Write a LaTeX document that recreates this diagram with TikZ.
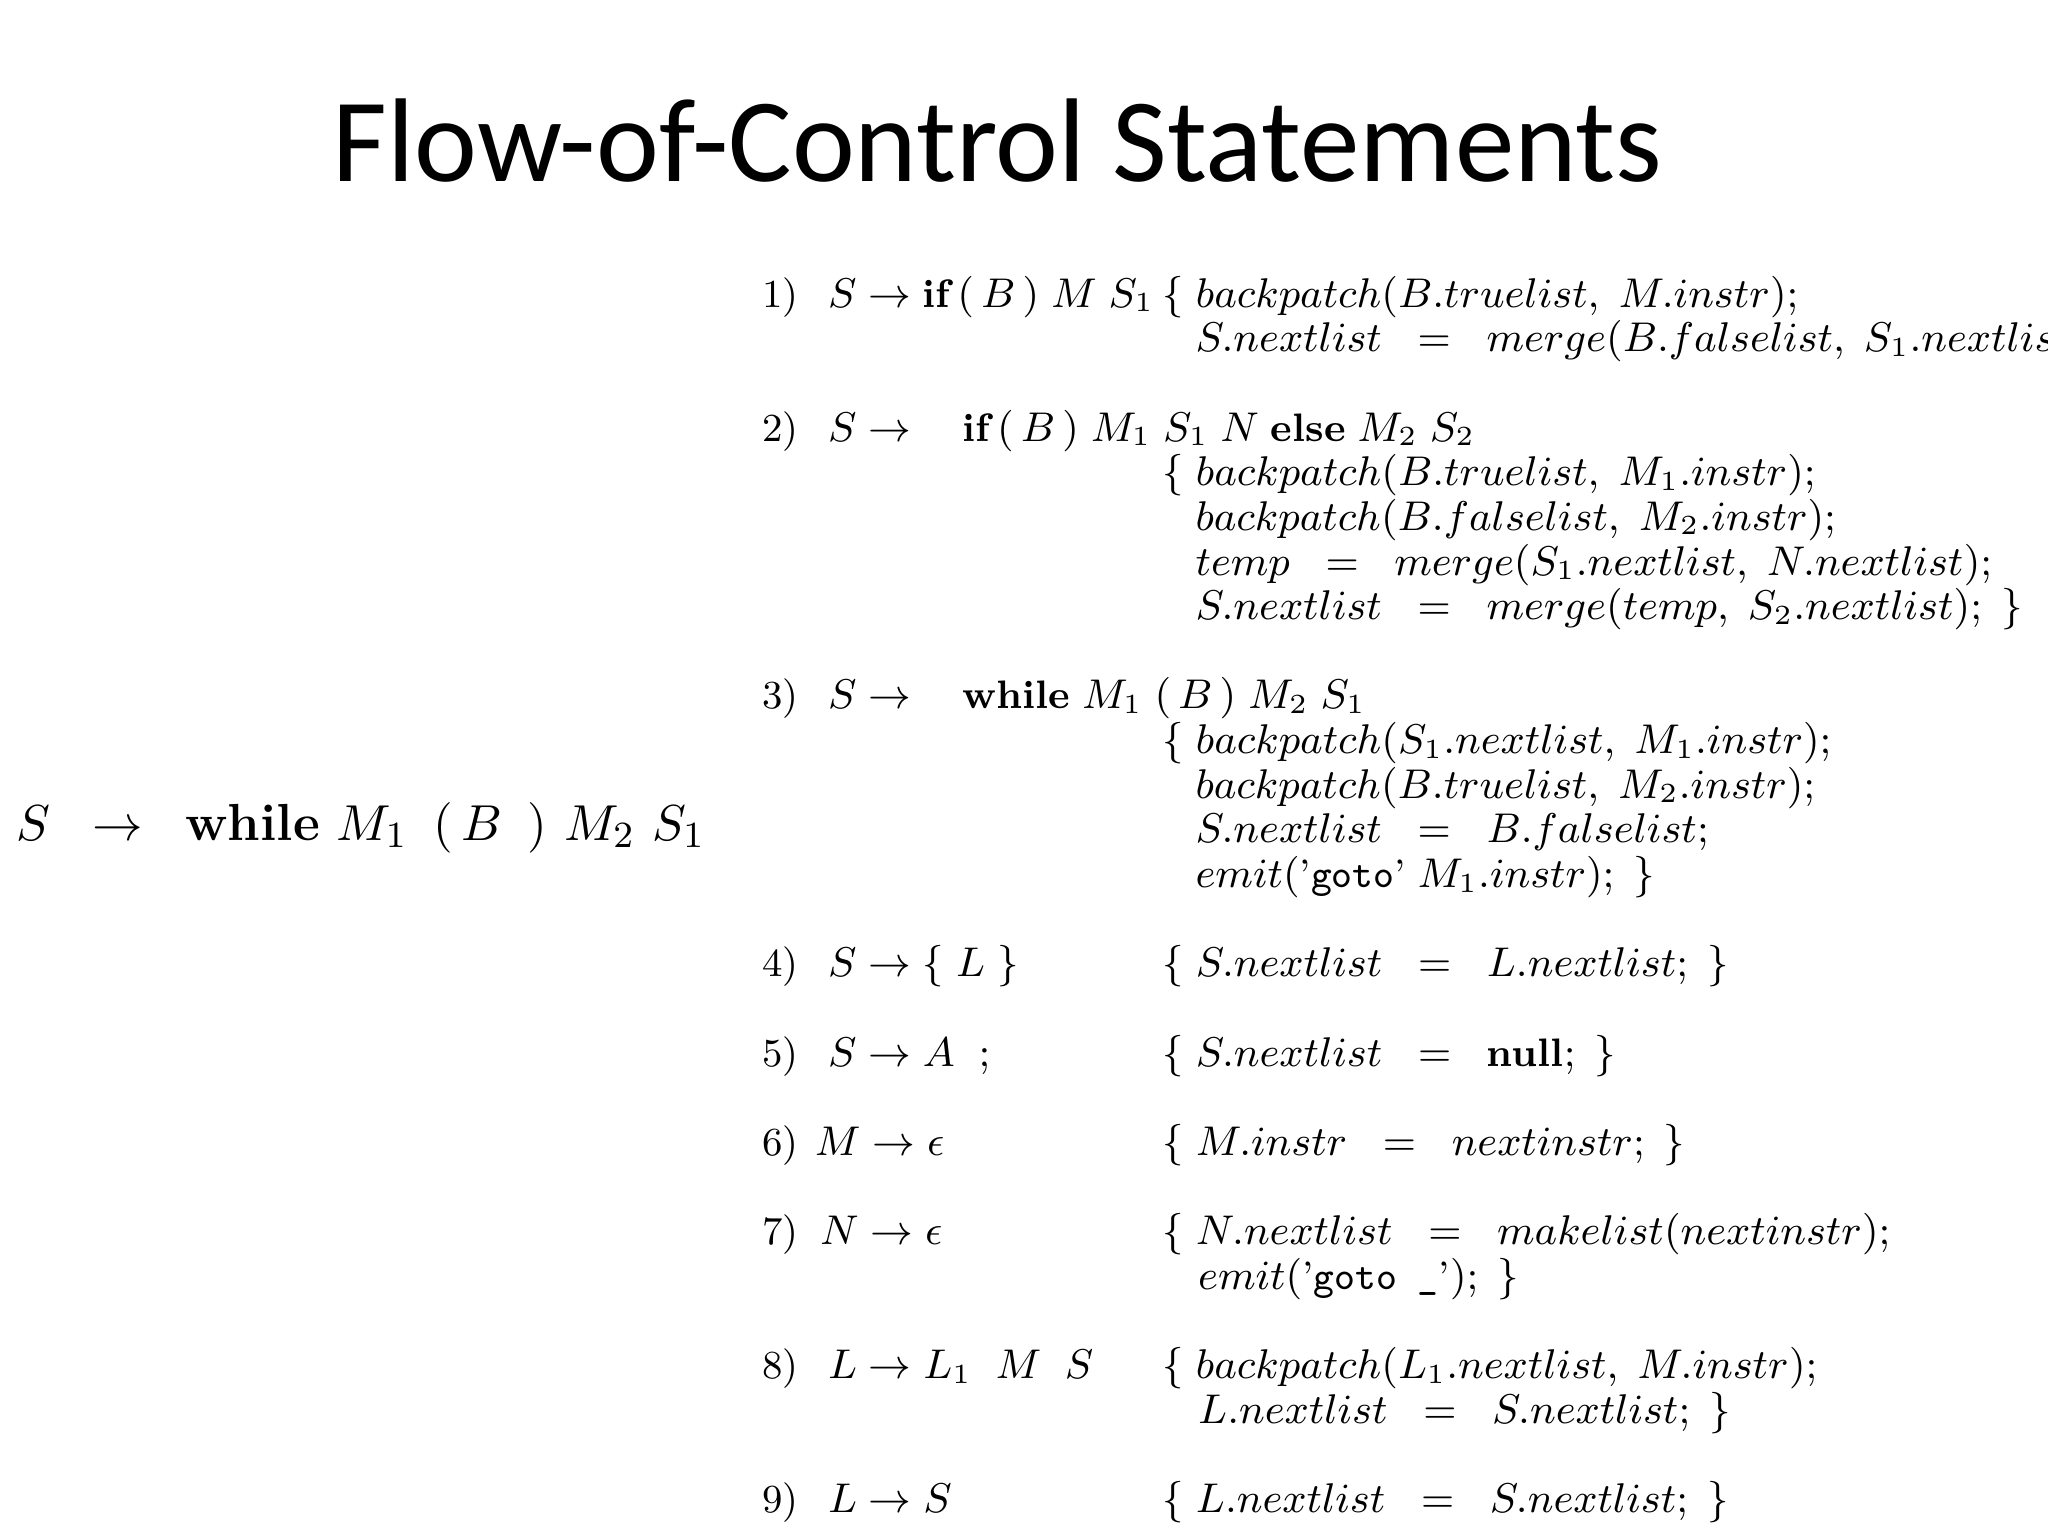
\documentclass[tikz,border=0pt]{standalone}
\usepackage{fontspec}
\newfontfamily\titlefont{Carlito}
\begin{document}
\begin{tikzpicture}[x=0.01cm,y=-0.01cm,
  t/.style={anchor=base west,inner sep=0pt,font=\fontsize{8.6}{10}\selectfont}]
\useasboundingbox (0,0) rectangle (1560,1170);
\node[font=\titlefont\fontsize{25.8}{30}\selectfont,anchor=base] (title) at (760,138) {Flow-of-Control Statements};
\node[anchor=base west,inner sep=0pt,font=\fontsize{11.3}{14}\selectfont] (left) at (12,640) {$S\;\;\to\;\;\textbf{while}\ M_1\ \,(\,B\,\ )\ M_2\ S_1$};
% 1
\node[t] (n1) at (580,234) {1)};
\node[t] (l1) at (630,234) {$S\to\textbf{if}\,(\,B\,)\;M\;S_1$};
\node[t] (b1) at (885,234) {$\{\;backpatch(B.truelist,\;M.instr);$};
\node[t] (c1) at (910,268) {$S.nextlist\;\;=\;\;merge(B.falselist,\;S_1.nextlist);\;\}$};
% 2
\node[t] (n2) at (580,336) {2)};
\node[t] (l2) at (630,336) {$S\to\quad\textbf{if}\,(\,B\,)\;M_1\;S_1\;N\;\textbf{else}\;M_2\;S_2$};
\node[t] (b2) at (885,370) {$\{\;backpatch(B.truelist,\;M_1.instr);$};
\node[t] (c2a) at (910,404) {$backpatch(B.falselist,\;M_2.instr);$};
\node[t] (c2b) at (910,438) {$temp\;\;=\;\;merge(S_1.nextlist,\;N.nextlist);$};
\node[t] (c2c) at (910,472) {$S.nextlist\;\;=\;\;merge(temp,\;S_2.nextlist);\;\}$};
% 3
\node[t] (n3) at (580,540) {3)};
\node[t] (l3) at (630,540) {$S\to\quad\textbf{while}\;M_1\;(\,B\,)\;M_2\;S_1$};
\node[t] (b3) at (885,574) {$\{\;backpatch(S_1.nextlist,\;M_1.instr);$};
\node[t] (c3a) at (910,608) {$backpatch(B.truelist,\;M_2.instr);$};
\node[t] (c3b) at (910,642) {$S.nextlist\;\;=\;\;B.falselist;$};
\node[t] (c3c) at (910,676) {$emit(\mbox{'}\texttt{goto}\mbox{'}\;M_1.instr);\;\}$};
% 4
\node[t] (n4) at (580,744) {4)};
\node[t] (l4) at (630,744) {$S\to\{\;L\;\}$};
\node[t] (b4) at (885,744) {$\{\;S.nextlist\;\;=\;\;L.nextlist;\;\}$};
% 5
\node[t] (n5) at (580,812) {5)};
\node[t] (l5) at (630,812) {$S\to A\;\;;$};
\node[t] (b5) at (885,812) {$\{\;S.nextlist\;\;=\;\;\textbf{null};\;\}$};
% 6
\node[t] (n6) at (580,880) {6)};
\node[t] (l6) at (620,880) {$M\to\epsilon$};
\node[t] (b6) at (885,880) {$\{\;M.instr\;\;=\;\;nextinstr;\;\}$};
% 7
\node[t] (n7) at (580,948) {7)};
\node[t] (l7) at (624,948) {$N\to\epsilon$};
\node[t] (b7) at (885,948) {$\{\;N.nextlist\;\;=\;\;makelist(nextinstr);$};
\node[t] (c7) at (912,982) {$emit(\mbox{'}\texttt{goto \_}\mbox{'});\;\}$};
% 8
\node[t] (n8) at (580,1050) {8)};
\node[t] (l8) at (630,1050) {$L\to L_1\;\;M\;\;S$};
\node[t] (b8) at (885,1050) {$\{\;backpatch(L_1.nextlist,\;M.instr);$};
\node[t] (c8) at (912,1084) {$L.nextlist\;\;=\;\;S.nextlist;\;\}$};
% 9
\node[t] (n9) at (580,1152) {9)};
\node[t] (l9) at (630,1152) {$L\to S$};
\node[t] (b9) at (885,1152) {$\{\;L.nextlist\;\;=\;\;S.nextlist;\;\}$};
\end{tikzpicture}
\end{document}
